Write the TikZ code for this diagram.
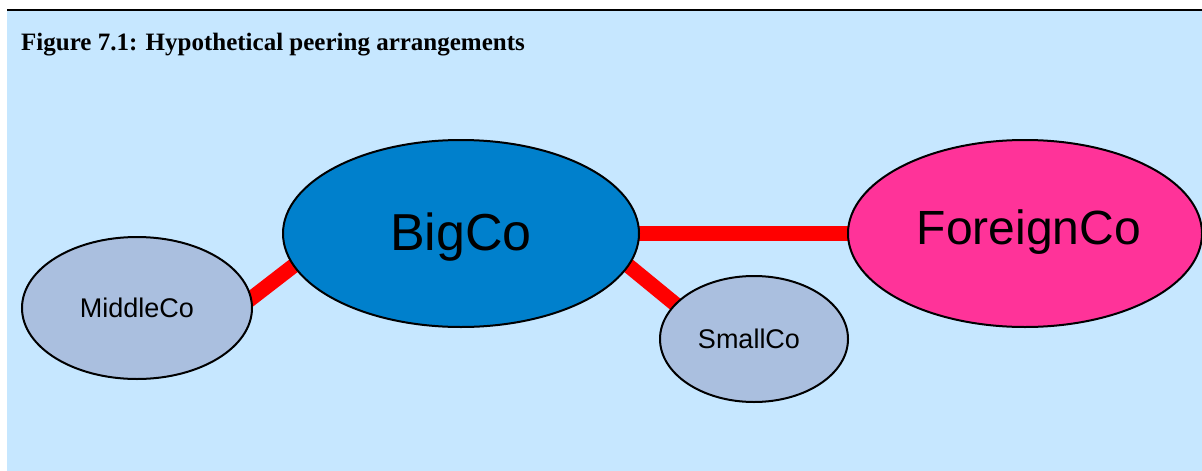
\documentclass[tikz,border=0pt]{standalone}
\usepackage{fontspec}
\setmainfont{Liberation Serif}
\setsansfont{Liberation Sans}
\usetikzlibrary{shapes.geometric,backgrounds}
\definecolor{panel}{RGB}{198,231,255}
\definecolor{bigblue}{RGB}{0,128,204}
\definecolor{foreignpink}{RGB}{255,51,153}
\definecolor{smallgrey}{RGB}{170,191,223}
\definecolor{linkred}{RGB}{255,0,0}
\begin{document}
\begin{tikzpicture}[x=1pt,y=-1pt,
  company/.style={ellipse,draw=black,line width=2pt,inner sep=0pt,text depth=0pt},
  bigname/.style={font=\sffamily\fontsize{52}{60}\selectfont,text height=37.2pt},
  smallname/.style={font=\sffamily\fontsize{27}{32}\selectfont,text height=19.3pt},
  peering/.style={draw=linkred,line width=15pt,shorten <=-10pt,shorten >=-10pt}]
\useasboundingbox (0,0) rectangle (1202,471);

% companies
\node[company,bigname,fill=bigblue,minimum width=356pt,minimum height=187pt]
  (big) at (461,233.5) {\raisebox{2pt}{BigCo}};
\node[company,font=\sffamily\fontsize{48}{56}\selectfont,text height=34.4pt,
  fill=foreignpink,minimum width=354pt,minimum height=187pt]
  (foreign) at (1025,233.5) {\kern8pt\raisebox{6pt}{ForeignCo}};
\node[company,smallname,fill=smallgrey,minimum width=230pt,minimum height=142pt]
  (middle) at (137,308) {MiddleCo};
\node[company,smallname,fill=smallgrey,minimum width=188pt,minimum height=126pt]
  (small) at (754,339) {SmallCo\kern10pt};

% title
\node[anchor=base west,inner sep=0pt,font=\fontsize{25}{30}\selectfont\bfseries]
  (title) at (21,50) {Figure 7.1: Hypothetical peering arrangements};

\begin{pgfonlayer}{background}
  \fill[panel] (7,11) rectangle (1202,471);
  \draw[line width=2.5pt] (7,10) -- (1202,10);
  % peering links
  \draw[peering] (big.east) -- (foreign.west);
  \draw[peering] (big.191) -- (middle.5.6);
  \draw[peering] (big.349) -- (small.156);
\end{pgfonlayer}
\end{tikzpicture}
\end{document}
